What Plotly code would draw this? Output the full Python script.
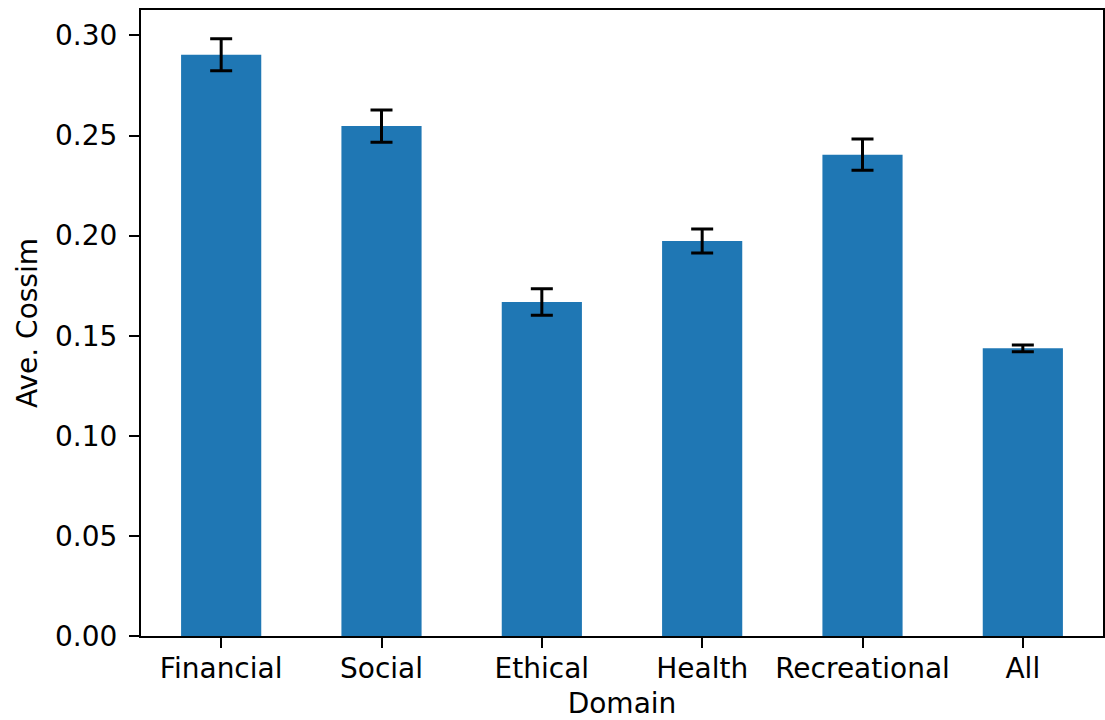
import plotly.graph_objects as go

# Average cosine similarity per domain, with error bars
domains = ["Financial", "Social", "Ethical", "Health", "Recreational", "All"]
ave_cossim = [0.2904, 0.2547, 0.1668, 0.1973, 0.2404, 0.1437]
errors = [0.0080, 0.0080, 0.0066, 0.0060, 0.0078, 0.0017]

y_ticks = [0.00, 0.05, 0.10, 0.15, 0.20, 0.25, 0.30]
y_tick_labels = ["0.00", "0.05", "0.10", "0.15", "0.20", "0.25", "0.30"]

FONT = "DejaVu Sans"
FONT_SIZE = 28
BAR_COLOR = "#1f77b4"

fig = go.Figure(
    go.Bar(
        x=domains,
        y=ave_cossim,
        width=0.5,
        marker=dict(color=BAR_COLOR, line=dict(width=0)),
        error_y=dict(
            type="data",
            array=errors,
            visible=True,
            color="black",
            thickness=3,
            width=11,
        ),
    )
)

fig.update_layout(
    width=1105,
    height=720,
    margin=dict(l=141, r=2, t=10, b=84),
    paper_bgcolor="white",
    plot_bgcolor="white",
    showlegend=False,
    font=dict(family=FONT, size=FONT_SIZE, color="black"),
)

fig.update_xaxes(
    type="category",
    range=[-0.5, 5.5],
    automargin=False,
    showline=True,
    linecolor="black",
    linewidth=2,
    mirror=True,
    ticks="outside",
    ticklen=10,
    tickwidth=2,
    tickcolor="black",
    ticklabelstandoff=-4,
    showgrid=False,
    title=dict(text="Domain", font=dict(family=FONT, size=FONT_SIZE), standoff=16),
    tickfont=dict(family=FONT, size=FONT_SIZE),
)

fig.update_yaxes(
    range=[0, 0.3127],
    tickvals=y_ticks,
    ticktext=y_tick_labels,
    automargin=False,
    showline=True,
    linecolor="black",
    linewidth=2,
    mirror=True,
    ticks="outside",
    ticklen=10,
    tickwidth=2,
    tickcolor="black",
    ticklabelstandoff=6,
    showgrid=False,
    zeroline=False,
    title=dict(text="Ave. Cossim", font=dict(family=FONT, size=FONT_SIZE), standoff=9),
    tickfont=dict(family=FONT, size=FONT_SIZE),
)

fig.write_html("out.html")
